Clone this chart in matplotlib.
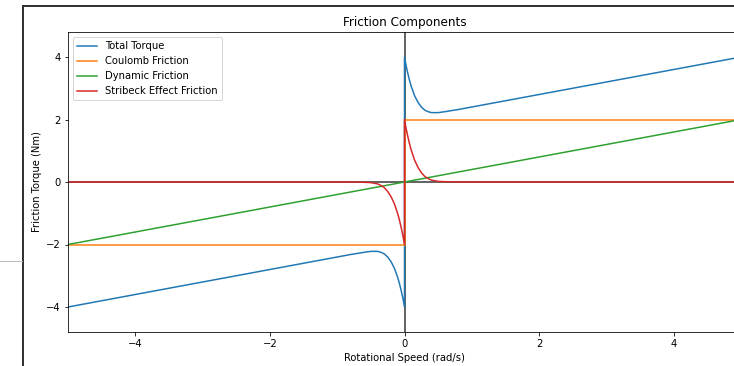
import matplotlib.pyplot as plt
from matplotlib.lines import Line2D

# Speeds (rad/s); 0 appears twice for the jump at zero
speed = [-5, -4, -3, -2, -1, -0.8, -0.6, -0.5, -0.4, -0.35, -0.3, -0.25, -0.2,
         -0.15, -0.1, -0.075, -0.05, -0.025, 0,
         0, 0.025, 0.05, 0.075, 0.1, 0.15, 0.2, 0.25, 0.3, 0.35, 0.4, 0.5,
         0.6, 0.8, 1, 2, 3, 4, 5]

coulomb = [-2] * 19 + [2] * 19

dynamic = [-2.0, -1.6, -1.2, -0.8, -0.4, -0.32, -0.24, -0.2, -0.16, -0.14, -0.12,
           -0.1, -0.08, -0.06, -0.04, -0.03, -0.02, -0.01, 0,
           0, 0.01, 0.02, 0.03, 0.04, 0.06, 0.08, 0.1, 0.12, 0.14, 0.16, 0.2,
           0.24, 0.32, 0.4, 0.8, 1.2, 1.6, 2.0]

stribeck = [0, 0, 0, 0, 0, 0, -0.01, -0.02, -0.06, -0.11, -0.18, -0.3, -0.47,
            -0.7, -1.02, -1.22, -1.45, -1.7, -2.0,
            2.0, 1.7, 1.45, 1.22, 1.02, 0.7, 0.47, 0.3, 0.18, 0.11, 0.06, 0.02,
            0.01, 0, 0, 0, 0, 0, 0]

total = [-4.0, -3.6, -3.2, -2.8, -2.4, -2.32, -2.25, -2.22, -2.22, -2.25, -2.3,
         -2.4, -2.55, -2.76, -3.06, -3.25, -3.47, -3.71, -4.0,
         4.0, 3.71, 3.47, 3.25, 3.06, 2.76, 2.55, 2.4, 2.3, 2.25, 2.22, 2.22,
         2.25, 2.32, 2.4, 2.8, 3.2, 3.6, 4.0]

fig = plt.figure(figsize=(734 / 72, 366 / 72), dpi=72)
ax = fig.add_axes([68 / 734, 1 - 332 / 366, (741 - 68) / 734, 300 / 366])

ax.axhline(0, color='k', lw=1.5, alpha=0.8)
ax.axvline(0, color='k', lw=1.5, alpha=0.8)
ax.plot(speed, total, label='Total Torque')
ax.plot(speed, coulomb, label='Coulomb Friction')
ax.plot(speed, dynamic, label='Dynamic Friction')
ax.plot(speed, stribeck, label='Stribeck Effect Friction')

ax.set_xlim(-5, 5)
ax.set_ylim(-4.8, 4.8)
ax.set_xticks([-4, -2, 0, 2, 4])
ax.set_yticks([-4, -2, 0, 2, 4])
ax.set_title('Friction Components')
ax.set_xlabel('Rotational Speed (rad/s)')
ax.set_ylabel('Friction Torque (Nm)')
ax.legend(loc='upper left')

# notebook output frame visible in the screenshot
fig.add_artist(Line2D([22.5 / 734, 22.5 / 734], [0, 1 - 6 / 366], color='#333333', lw=2))
fig.add_artist(Line2D([22.5 / 734, 1], [1 - 6 / 366, 1 - 6 / 366], color='#333333', lw=2))
fig.add_artist(Line2D([0, 22 / 734], [1 - 261 / 366, 1 - 261 / 366], color='#bbbbbb', lw=1))

fig.savefig('out.png', dpi=72)
